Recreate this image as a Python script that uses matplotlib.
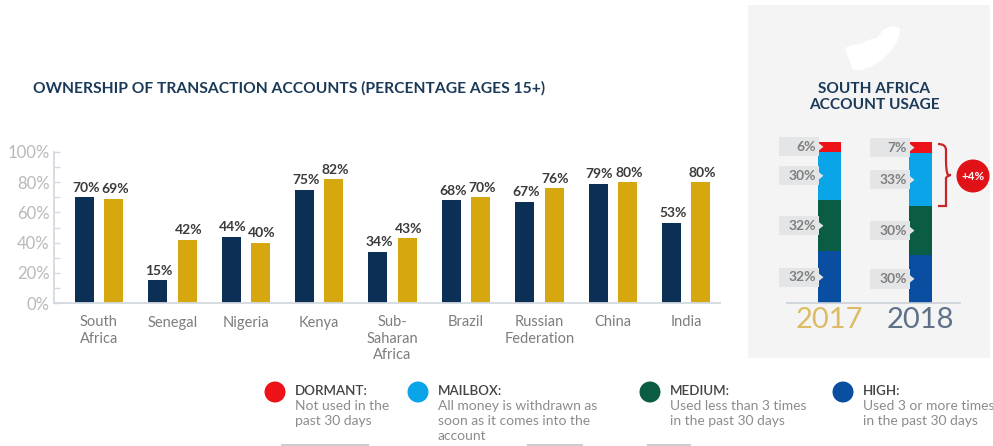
import matplotlib
matplotlib.use("Agg")
import matplotlib.pyplot as plt
from matplotlib.patches import Rectangle, Polygon, Circle, PathPatch
from matplotlib.path import Path

plt.rcParams['font.family'] = ['Lato', 'DejaVu Sans']

W, H = 993, 446

# data
countries = ['South\nAfrica', 'Senegal', 'Nigeria', 'Kenya', 'Sub-\nSaharan\nAfrica',
             'Brazil', 'Russian\nFederation', 'China', 'India']
own_2017 = [70, 15, 44, 75, 34, 68, 67, 79, 53]
own_2018 = [69, 42, 40, 82, 43, 70, 76, 80, 80]
y_ticks = [0, 20, 40, 60, 80, 100]

years = ['2017', '2018']
dormant = [6, 7]
mailbox = [30, 33]
medium = [32, 30]
high = [32, 30]

legend_heads = ['DORMANT:', 'MAILBOX:', 'MEDIUM:', 'HIGH:']
legend_desc = ['Not used in the\npast 30 days',
               'All money is withdrawn as\nsoon as it comes into the\naccount',
               'Used less than 3 times\nin the past 30 days',
               'Used 3 or more times\nin the past 30 days']

NAVY = '#0b2f55'
GOLD = '#d6a70e'
RED = '#ec1218'
LBLUE = '#0aa5e8'
GREEN = '#0a5c45'
BLUE = '#0a4ea2'
AXIS = '#d3d9e0'
BOX = '#e4e5e6'


def px_axes(fig, left, right, top, bottom):
    return fig.add_axes([left / W, 1 - bottom / H, (right - left) / W, (bottom - top) / H])


fig = plt.figure(figsize=(W / 100, H / 100), dpi=100, facecolor='white')

# full figure layer for the panel, legend and other decoration
bg = fig.add_axes([0, 0, 1, 1], zorder=0)
bg.set_xlim(0, W)
bg.set_ylim(H, 0)
bg.axis('off')

bg.add_patch(Rectangle((748, 5), 242, 353, color='#f4f4f5', lw=0))
# rough outline of the country
bg.add_patch(Polygon([(845, 48), (852, 45), (860, 44), (868, 40), (877, 38), (884, 29), (893, 26), (900, 28),
                      (899, 37), (895, 45), (890, 52), (882, 60), (872, 66), (862, 70), (853, 70), (850, 62)],
                     closed=True, color='white', lw=0))

bg.text(33, 88, 'OWNERSHIP OF TRANSACTION ACCOUNTS (PERCENTAGE AGES 15+)', fontsize=11.25,
        fontweight='bold', color='#1b3a58', va='center', ha='left')
bg.text(874, 97, 'SOUTH AFRICA\nACCOUNT USAGE', fontsize=11.1, fontweight='bold', color='#1b3a58',
        va='center', ha='center', linespacing=1.15)

# legend
legend_colors = [RED, LBLUE, GREEN, BLUE]
legend_x = [275, 418, 650, 843]
for i in range(4):
    bg.add_patch(Circle((legend_x[i], 392), 10.5, color=legend_colors[i], lw=0))
    bg.text(legend_x[i] + 20, 391, legend_heads[i], fontsize=9.6, color='#444444', va='center',
            fontweight='semibold')
    bg.text(legend_x[i] + 20, 400.5, legend_desc[i], fontsize=10, color='#8c8c8c', va='top',
            linespacing=1.28)

for x0, x1 in [(282, 368), (528, 582), (648, 690)]:
    bg.plot([x0, x1], [445, 445], color='#cccccc', lw=1.5)

# brace and badge
brace = Path([(938, 144), (946, 144), (946, 150), (946, 160), (946, 172), (948, 175), (951, 175),
              (948, 175), (946, 178), (946, 190), (946, 200), (946, 206), (938, 206)],
             [Path.MOVETO, Path.CURVE3, Path.CURVE3, Path.LINETO, Path.CURVE3, Path.CURVE3, Path.LINETO,
              Path.CURVE3, Path.CURVE3, Path.LINETO, Path.CURVE3, Path.CURVE3, Path.LINETO])
bg.add_patch(PathPatch(brace, fc='none', ec='#c8252b', lw=1.6))
bg.add_patch(Circle((973, 176), 16.5, color='#e01218', lw=0))
bg.text(973, 176, '+4%', color='white', fontsize=8.5, fontweight='bold', ha='center', va='center')

# main bar chart
ax = px_axes(fig, 54, 720, 152, 303)
ax.patch.set_alpha(0)
pos = list(range(len(countries)))
w = 0.26
off = 0.2
ax.bar([p - off for p in pos], own_2017, w, color=NAVY)
ax.bar([p + off for p in pos], own_2018, w, color=GOLD)
for p, a, b in zip(pos, own_2017, own_2018):
    ax.annotate(f'{a}%', (p - off, a), xytext=(1, 2.5), textcoords='offset points', ha='center', va='bottom',
                fontsize=10, fontweight='bold', color='#3a3a3a')
    ax.annotate(f'{b}%', (p + off, b), xytext=(1, 2.5), textcoords='offset points', ha='center', va='bottom',
                fontsize=10, fontweight='bold', color='#3a3a3a')
ax.set_xlim(-0.613, 8.46)
ax.set_ylim(0, 100)
ax.set_xticks(pos)
ax.set_xticklabels(countries, fontsize=10.5, color='#7d7d7d', linespacing=1.22)
ax.set_yticks(y_ticks)
ax.set_yticklabels([f'{v}%' for v in y_ticks], fontsize=12, color='#b9b9b9')
ax.set_yticks([10, 30, 50, 70, 90], minor=True)
ax.tick_params(axis='x', length=0, pad=9)
ax.tick_params(axis='y', which='both', length=4, width=1, color=AXIS, pad=3, direction='in')
for s in ['top', 'right']:
    ax.spines[s].set_visible(False)
for s in ['left', 'bottom']:
    ax.spines[s].set_color(AXIS)
    ax.spines[s].set_linewidth(1.3)

# stacked usage chart
ax2 = px_axes(fig, 787, 960, 142, 303)
ax2.patch.set_alpha(0)
xs = [0, 1]
bw = 0.25
bottom = [0, 0]
for vals, col in [(high, BLUE), (medium, GREEN), (mailbox, LBLUE), (dormant, RED)]:
    ax2.bar(xs, vals, bw, bottom=bottom, color=col)
    for x, v, b in zip(xs, vals, bottom):
        mid = b + v / 2
        ax2.add_patch(Rectangle((x - 0.56, mid - 6), 0.44, 12, color=BOX, lw=0, clip_on=False, zorder=3))
        ax2.add_patch(Polygon([(x - 0.125, mid + 2.5), (x - 0.125, mid - 2.5), (x - 0.07, mid)],
                              closed=True, color=BOX, lw=0, clip_on=False, zorder=3))
        ax2.text(x - 0.15, mid, f'{v}%', ha='right', va='center', fontsize=10, fontweight='bold',
                 color='#7f7f7f', zorder=4)
    bottom = [b + v for b, v in zip(bottom, vals)]
ax2.set_xlim(-0.47, 1.43)
ax2.set_ylim(0, 100)
ax2.set_yticks([])
ax2.set_xticks(xs)
ax2.set_xticklabels(years, fontsize=21)
ax2.get_xticklabels()[0].set_color('#dcbc62')
ax2.get_xticklabels()[1].set_color('#5f7186')
ax2.tick_params(axis='x', length=0, pad=3)
for s in ['top', 'right', 'left']:
    ax2.spines[s].set_visible(False)
ax2.spines['bottom'].set_color('#c9d0d8')
ax2.spines['bottom'].set_linewidth(1.2)

fig.savefig('out.png', dpi=100)
